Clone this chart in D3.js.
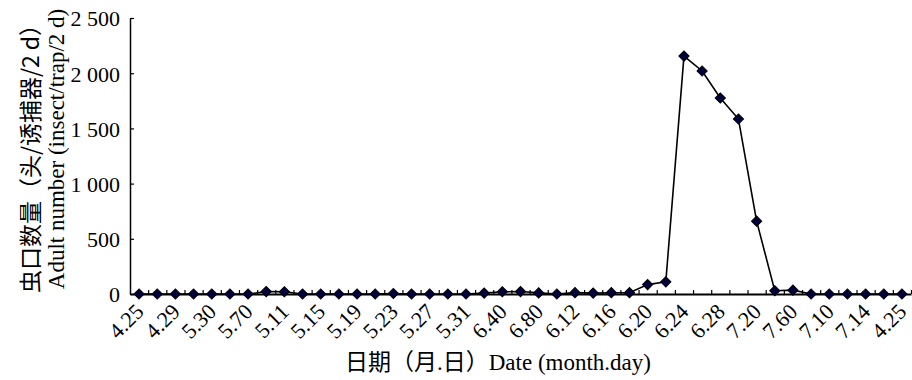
<!DOCTYPE html>
<html>
<head>
<meta charset="utf-8">
<script src="https://cdn.jsdelivr.net/npm/d3@7"></script>
<style>
  body { margin: 0; background: #fff; }
  svg { display: block; }
</style>
</head>
<body>
<svg id="chart"></svg>
<script>
// sampling dates, every 2 days (odd ones are not labelled on the axis)
var dates = ["4.25", "4.27", "4.29", "5.1", "5.30", "5.5", "5.70", "5.9", "5.11", "5.13",
    "5.15", "5.17", "5.19", "5.21", "5.23", "5.25", "5.27", "5.29", "5.31", "6.2",
    "6.40", "6.6", "6.80", "6.10", "6.12", "6.14", "6.16", "6.18", "6.20", "6.22",
    "6.24", "6.26", "6.28", "6.30", "7.20", "7.4", "7.60", "7.8", "7.10", "7.12",
    "7.14", "7.16", "4.25"]

// adults per trap per 2 days
var counts = [0, 0, 0, 0, 0, 0, 0, 22, 20, 0,
    0, 0, 0, 0, 5, 0, 0, 0, 0, 8,
    20, 22, 10, 0, 12, 8, 12, 12, 85, 110,
    2155, 2020, 1775, 1585, 660, 30, 35, 0, 0, 0,
    0, 0, 0]

var yTicks = [0, 500, 1000, 1500, 2000, 2500]

var serif = "'Liberation Serif', 'Noto Sans CJK SC', serif"

var dimensions = {
    width: 912,
    height: 380,
    margin: { top: 18, bottom: 86, right: 1, left: 130 }
}

var svg = d3.select("#chart")
    .attr("width", dimensions.width)
    .attr("height", dimensions.height)

var idx = d3.range(dates.length)

var xScale = d3.scaleBand()
    .domain(idx)
    .range([dimensions.margin.left, dimensions.width - dimensions.margin.right])

// same extent, used for the tick marks between categories
var xEdge = d3.scaleLinear()
    .domain([0, dates.length])
    .range([dimensions.margin.left, dimensions.width - dimensions.margin.right])

var yScale = d3.scaleLinear()
    .domain([0, 2500])
    .range([dimensions.height - dimensions.margin.bottom, dimensions.margin.top])

var spaced = d3.formatLocale({ decimal: ".", thousands: " ", grouping: [3], currency: ["", ""] }).format(",")

var baseY = dimensions.height - dimensions.margin.bottom

// y axis, ticks pointing inward
var yAxis = svg.append("g")
    .attr("transform", "translate(" + dimensions.margin.left + ",0)")
    .attr("font-family", null)
    .call(d3.axisLeft(yScale).tickValues(yTicks).tickSize(-4).tickSizeOuter(0).tickPadding(10).tickFormat(spaced))
yAxis.attr("font-family", serif).attr("font-size", 22)
yAxis.select(".domain").attr("stroke-width", 1.5)
yAxis.selectAll(".tick line").attr("stroke-width", 1.2)
yAxis.selectAll("text")
    .style("font-family", serif)
    .style("font-size", "22px")
    .attr("dy", "0.36em")

// tick marks between categories
var tickAxis = svg.append("g")
    .attr("transform", "translate(0," + baseY + ")")
    .call(d3.axisBottom(xEdge).tickValues(d3.range(1, dates.length + 1)).tickSize(-4).tickSizeOuter(0).tickFormat(""))
tickAxis.select(".domain").remove()
tickAxis.selectAll(".tick line").attr("stroke-width", 1.2)

// category labels, every other date
var xAxis = svg.append("g")
    .attr("transform", "translate(0," + baseY + ")")
    .call(d3.axisBottom(xScale)
        .tickValues(idx.filter(function (i) { return i % 2 === 0 }))
        .tickSize(0).tickSizeOuter(0)
        .tickFormat(function (i) { return dates[i] }))
xAxis.attr("font-family", serif).attr("font-size", 22)
xAxis.select(".domain").attr("stroke-width", 2.2)
xAxis.selectAll("text")
    .style("font-family", serif)
    .style("font-size", "22px")
    .style("text-anchor", "end")
    .attr("y", 0)
    .attr("dy", "0.7em")
    .attr("transform", "translate(-5,8) rotate(-45)")

var line = d3.line()
    .x(function (d, i) { return xScale(i) + xScale.bandwidth() / 2 })
    .y(function (d) { return yScale(d) })

svg.append("path")
    .attr("fill", "none")
    .attr("stroke", "#000")
    .attr("stroke-width", 1.6)
    .attr("d", line(counts))

svg.selectAll(".pt")
    .data(counts)
    .enter()
    .append("path")
    .attr("class", "pt")
    .attr("d", d3.symbol(d3.symbolSquare, 52))
    .attr("transform", function (d, i) {
        return "translate(" + (xScale(i) + xScale.bandwidth() / 2) + "," + yScale(d) + ") rotate(45)"
    })
    .attr("fill", "#00003c")
    .attr("stroke", "#000")
    .attr("stroke-width", 1)

// axis titles
svg.append("text")
    .attr("transform", "translate(39,153) rotate(-90)")
    .style("font-size", "23px")
    .style("font-family", "'Noto Sans CJK SC', sans-serif")
    .style("text-anchor", "middle")
    .text("虫口数量（头/诱捕器/2 d）")

svg.append("text")
    .attr("transform", "translate(64,149) rotate(-90)")
    .style("font-size", "23px")
    .style("font-family", serif)
    .style("text-anchor", "middle")
    .text("Adult number (insect/trap/2 d)")

svg.append("text")
    .attr("x", 498)
    .attr("y", 370)
    .style("font-size", "23px")
    .style("font-family", serif)
    .style("text-anchor", "middle")
    .text("日期（月.日）Date (month.day)")
</script>
</body>
</html>
